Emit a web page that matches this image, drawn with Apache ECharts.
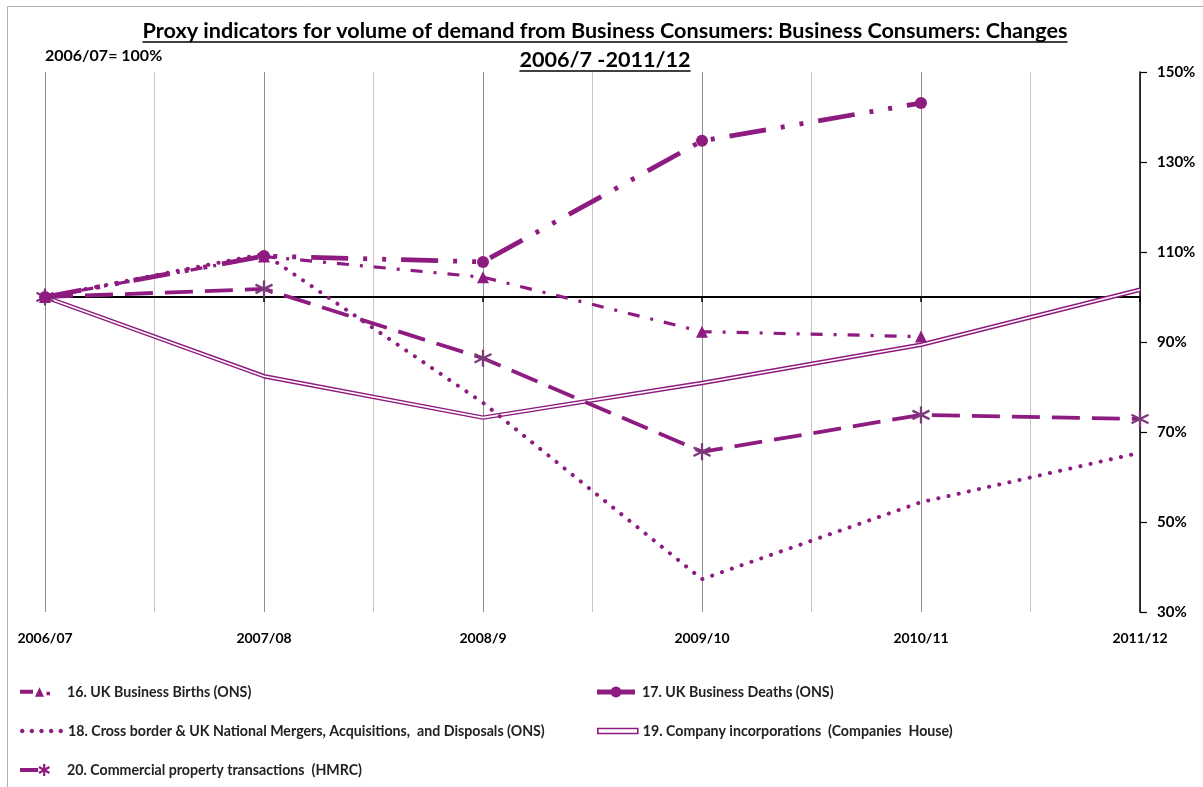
<!DOCTYPE html>
<html>
<head>
<meta charset="utf-8">
<script src="https://cdn.jsdelivr.net/npm/echarts@6/dist/echarts.min.js"></script>
<style>html,body{margin:0;padding:0;background:#fff}#c{width:1203px;height:787px}</style>
</head>
<body>
<div id="c"></div>
<script>
const categories = ['2006/07', '2007/08', '2008/9', '2009/10', '2010/11', '2011/12'];
const yTicks = [30, 50, 70, 90, 110, 130, 150];
const seriesNames = [
  '16. UK Business Births (ONS)',
  '17. UK Business Deaths (ONS)',
  '18. Cross border & UK National Mergers, Acquisitions,  and Disposals (ONS)',
  '19. Company incorporations  (Companies  House)',
  '20. Commercial property transactions  (HMRC)'
];
const births = [100, 109.0, 104.4, 92.3, 91.2, null];
const deaths = [100, 109.1, 107.8, 134.7, 143.1, null];
const mergers = [100, 109.6, 76.5, 37.3, 54.4, 65.4];
const incorporations = [100, 82.4, 73.2, 80.9, 89.4, 101.6];
const property = [100, 101.8, 86.4, 65.6, 73.8, 72.9];

const PURPLE = '#8e1b80';
const STAR = '#7d3a78';
const FONT = 'Lato';

function pts(arr) {
  const out = [];
  arr.forEach((v, i) => { if (v !== null) out.push([i, v]); });
  return out;
}

const chart = echarts.init(document.getElementById('c'), null, {renderer: 'canvas'});

const titleLine1 = 'Proxy indicators for volume of demand from Business Consumers: Business Consumers: Changes';
const titleLine2 = '2006/7 -2011/12';
const titleFont = 'bold 21.6px ' + FONT;
const cv = document.createElement('canvas').getContext('2d');
cv.font = titleFont;
const w1 = cv.measureText(titleLine1).width;
const w2 = cv.measureText(titleLine2).width;
const cx = 605;

const asterisk = 'path://M5,0 L5,10 M0.7,2.5 L9.3,7.5 M0.7,7.5 L9.3,2.5';

// ---- legend icon shapes (style only) ----
function rectP(x, y, w, h) { return `M${x},${y} L${x + w},${y} L${x + w},${y + h} L${x},${y + h} Z `; }
function polyP(pts) { return 'M' + pts.map(p => p[0].toFixed(2) + ',' + p[1].toFixed(2)).join(' L') + ' Z '; }
function circleP(cx0, cy0, r) {
  const p = [];
  for (let k = 0; k < 16; k++) { const a = k / 16 * Math.PI * 2; p.push([cx0 + r * Math.cos(a), cy0 + r * Math.sin(a)]); }
  return polyP(p);
}
function barP(cx0, cy0, len, th, ang) {
  const c = Math.cos(ang), s = Math.sin(ang);
  const hx = len / 2, hy = th / 2;
  return polyP([[-hx, -hy], [hx, -hy], [hx, hy], [-hx, hy]].map(([x, y]) => [cx0 + x * c - y * s, cy0 + x * s + y * c]));
}
const icon16 = 'path://' + rectP(0, 5, 13, 4) + polyP([[15, 12], [19.5, 2.5], [24, 12]]) + rectP(26.5, 7, 3.5, 3.5);
const icon17 = 'path://' + rectP(0, 4.5, 38, 5) + circleP(19, 7, 5.5);
let d18 = '';
for (let k = 0; k < 5; k++) d18 += circleP(2.2 + k * 9.5, 7, 2.2);
const icon18 = 'path://' + d18;
const icon20 = 'path://' + rectP(0, 5, 18, 4) + barP(24, 7, 12, 2.2, Math.PI / 2) + barP(24, 7, 12, 2.2, Math.PI / 6) + barP(24, 7, 12, 2.2, -Math.PI / 6);
const icon19 = 'path://' + rectP(0, 0, 40, 5);

const legendText = {fontSize: 14.2, fontWeight: 'bold', color: '#222', fontFamily: FONT};
function leg(name, left, top, width, icon, itemStyle, padLeft) {
  return {
    orient: 'horizontal', left: left, top: top, padding: 0, itemWidth: width, itemHeight: 14,
    textStyle: Object.assign({padding: [0, 0, 0, padLeft || 0]}, legendText),
    data: [{name: name, icon: icon, itemStyle: itemStyle, lineStyle: {width: 0, opacity: 0}}]
  };
}
const solidIcon = {color: PURPLE, borderWidth: 0};

const option = {
  backgroundColor: '#fff',
  animation: false,
  textStyle: {fontFamily: FONT},
  grid: {left: 45, right: 63, top: 72, bottom: 175, containLabel: false},
  xAxis: [{
    type: 'value', min: 0, max: categories.length - 1, interval: 0.5,
    axisLine: {show: false},
    axisTick: {show: false},
    axisLabel: {
      show: true, margin: 19, fontSize: 14, fontWeight: 'bold', color: '#000', fontFamily: FONT,
      showMinLabel: true, showMaxLabel: true,
      formatter: v => Number.isInteger(v) ? categories[v] : ''
    },
    splitLine: {show: true, lineStyle: {color: ['#8c8c8c', '#c4c4c4'], width: 1}}
  }, {
    type: 'value', min: 0, max: categories.length - 1, interval: 1,
    position: 'bottom', offset: -315,
    axisLine: {show: true, onZero: false, lineStyle: {color: '#000', width: 2}},
    axisTick: {show: true, length: 5, lineStyle: {color: '#000', width: 1.5}},
    axisLabel: {show: false},
    splitLine: {show: false}
  }],
  yAxis: {
    type: 'value', position: 'right', min: yTicks[0], max: yTicks[yTicks.length - 1], interval: 20,
    axisLine: {show: true, onZero: false, lineStyle: {color: '#000', width: 1.5}},
    axisTick: {show: true, length: 7, lineStyle: {color: '#000', width: 1.2}},
    axisLabel: {margin: 17, fontSize: 15, fontWeight: 'bold', color: '#000', fontFamily: FONT, formatter: '{value}%'},
    splitLine: {show: false}
  },
  legend: [
    leg(seriesNames[0], 20, 685, 30, icon16, solidIcon, 12),
    leg(seriesNames[2], 20, 724, 43, icon18, solidIcon, 0),
    leg(seriesNames[4], 20, 763, 30, icon20, solidIcon, 12),
    leg(seriesNames[1], 597, 685, 38, icon17, solidIcon, 2),
    leg(seriesNames[3], 597, 724, 40, icon19, {color: '#fff', borderColor: PURPLE, borderWidth: 1.6}, 0)
  ],
  series: [
    {
      name: seriesNames[3], type: 'line', data: pts(incorporations), symbol: 'none',
      lineStyle: {color: PURPLE, width: 4.5}, itemStyle: {color: PURPLE}, z: 2
    },
    {
      name: '19w', type: 'line', data: pts(incorporations), symbol: 'none', silent: true,
      lineStyle: {color: '#fff', width: 1.6}, itemStyle: {color: '#fff'}, z: 3
    },
    {
      name: seriesNames[2], type: 'line', data: pts(mergers), symbol: 'none',
      lineStyle: {color: PURPLE, width: 4, type: [0.1, 10.3], cap: 'round'}, itemStyle: {color: PURPLE}, z: 4
    },
    {
      name: seriesNames[4], type: 'line', data: pts(property), symbol: asterisk, symbolSize: 17,
      lineStyle: {color: PURPLE, width: 3.8, type: [28, 12]},
      itemStyle: {color: 'none', borderColor: STAR, borderWidth: 2.3}, z: 5
    },
    {
      name: seriesNames[0], type: 'line', data: pts(births), symbol: 'triangle', symbolSize: 12,
      lineStyle: {color: PURPLE, width: 3.2, type: [12, 11, 3, 11]}, itemStyle: {color: PURPLE}, z: 6
    },
    {
      name: seriesNames[1], type: 'line', data: pts(deaths), symbol: 'circle', symbolSize: 12,
      lineStyle: {color: PURPLE, width: 4.8, type: [37, 15, 4, 15, 4, 15]}, itemStyle: {color: PURPLE}, z: 7
    }
  ],
  graphic: [
    {type: 'rect', left: 5, top: 4, silent: true, shape: {width: 1230, height: 820},
     style: {fill: 'none', stroke: '#b0b0b0', lineWidth: 1}},
    {type: 'text', x: cx, y: 31, silent: true,
     style: {text: titleLine1, font: titleFont, fill: '#000', align: 'center', verticalAlign: 'middle'}},
    {type: 'line', silent: true, shape: {x1: cx - w1 / 2, y1: 42, x2: cx + w1 / 2, y2: 42}, style: {stroke: '#000', lineWidth: 1.6}},
    {type: 'text', x: cx, y: 60, silent: true,
     style: {text: titleLine2, font: titleFont, fill: '#000', align: 'center', verticalAlign: 'middle'}},
    {type: 'line', silent: true, shape: {x1: cx - w2 / 2, y1: 71, x2: cx + w2 / 2, y2: 71}, style: {stroke: '#000', lineWidth: 1.6}},
    {type: 'text', x: 45, y: 56, silent: true,
     style: {text: '2006/07= 100%', font: 'bold 16px ' + FONT, fill: '#000', align: 'left', verticalAlign: 'middle'}}
  ]
};
chart.setOption(option);
</script>
</body>
</html>
